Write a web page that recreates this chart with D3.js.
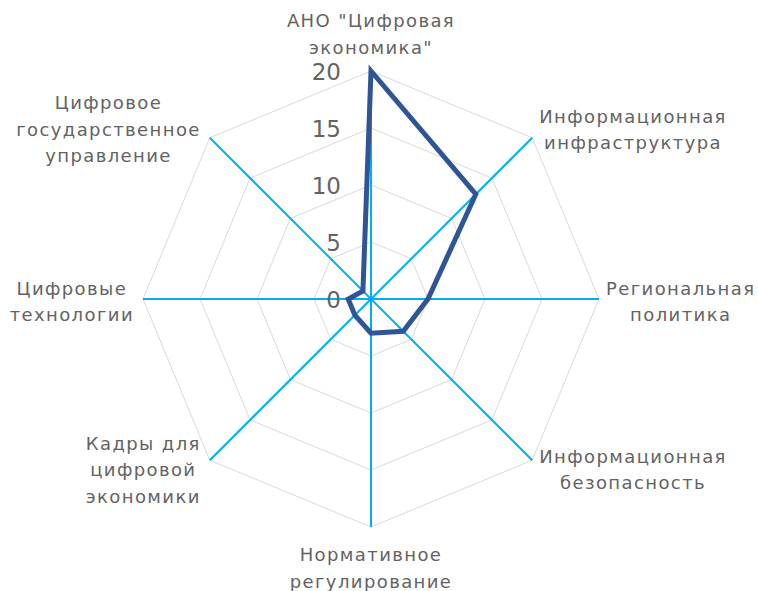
<!DOCTYPE html>
<html>
<head>
<meta charset="utf-8">
<script src="https://cdn.jsdelivr.net/npm/d3@7"></script>
<style>
  body { margin: 0; background: #fff; }
  text { font-family: "DejaVu Sans", sans-serif; fill: #636363; }
</style>
</head>
<body>
<div id="chart"></div>
<script>
var width = 758;
var height = 591;

// chart data
var categories = [
    'АНО "Цифровая\nэкономика"',
    'Информационная\nинфраструктура',
    'Региональная\nполитика',
    'Информационная\nбезопасность',
    'Нормативное\nрегулирование',
    'Кадры для\nцифровой\nэкономики',
    'Цифровые\nтехнологии',
    'Цифровое\nгосударственное\nуправление'
];
var values = [20, 13, 5, 4, 3, 2, 2, 1];
var ticks = [0, 5, 10, 15, 20];

// center of the radar
var cx = 371, cy = 299;

var svg = d3.select('#chart').append('svg')
    .attr('width', width)
    .attr('height', height);

var g = svg.append('g')
    .attr('transform', `translate(${cx}, ${cy})`);

var rScale = d3.scaleLinear()
    .domain([0, 20])
    .range([0, 228]);

var angle = d3.scalePoint()
    .domain(d3.range(categories.length + 1))
    .range([0, 2 * Math.PI]);

var R = rScale(20);

// grid octagons
var gridLine = d3.lineRadial()
    .angle((d, i) => angle(i))
    .radius(d => rScale(d))
    .curve(d3.curveLinearClosed);

g.selectAll('.grid')
    .data(ticks.slice(1))
    .enter()
    .append('path')
    .attr('class', 'grid')
    .attr('d', t => gridLine(categories.map(() => t)))
    .attr('fill', 'none')
    .attr('stroke', '#d9d9d9')
    .attr('stroke-width', 1);

// spokes
g.selectAll('.spoke')
    .data(categories)
    .enter()
    .append('line')
    .attr('class', 'spoke')
    .attr('x1', 0)
    .attr('y1', 0)
    .attr('x2', (d, i) => R * Math.sin(angle(i)))
    .attr('y2', (d, i) => -R * Math.cos(angle(i)))
    .attr('stroke', '#00b0f0')
    .attr('stroke-width', 2);

// tick labels
g.selectAll('.tick')
    .data(ticks)
    .enter()
    .append('text')
    .attr('class', 'tick')
    .attr('x', -30)
    .attr('y', t => -rScale(t) + 1)
    .attr('text-anchor', 'end')
    .attr('dominant-baseline', 'central')
    .style('font-size', '23px')
    .text(t => t);

// series
var seriesLine = d3.lineRadial()
    .angle((d, i) => angle(i))
    .radius(d => rScale(d))
    .curve(d3.curveLinearClosed);

g.append('path')
    .attr('d', seriesLine(values))
    .attr('fill', 'none')
    .attr('stroke', '#2f5597')
    .attr('stroke-width', 5)
    .attr('stroke-linejoin', 'miter');

// category labels
var lineH = 26.5;
categories.forEach(function (c, i) {
    var a = angle(i);
    var dx = Math.sin(a), dy = -Math.cos(a);
    if (Math.abs(dx) < 1e-9) dx = 0;
    if (Math.abs(dy) < 1e-9) dy = 0;
    var px = R * dx, py = R * dy;
    var lines = c.split('\n');
    var lab = g.append('text')
        .attr('text-anchor', 'middle')
        .attr('dominant-baseline', 'central')
        .style('font-size', '18px')
        .style('letter-spacing', '1.4px');
    var spans = lines.map(l => lab.append('tspan').text(l));
    var W = d3.max(spans, s => s.node().getComputedTextLength());
    var H = lines.length * lineH;

    var left;
    if (dx > 0.3) left = px + 7;
    else if (dx < -0.3) left = px - 9 - W;
    else left = px - W / 2;

    var mid;
    if (dy < -0.9) mid = py - 11 - H / 2;
    else if (dy > 0.9) mid = py + 14 + H / 2;
    else if (dy === 0) mid = py + 2;
    else mid = py + Math.sign(dy) * 9;

    spans.forEach(function (s, k) {
        s.attr('x', left + W / 2)
            .attr('y', mid - H / 2 + lineH * (k + 0.5));
    });
});
</script>
</body>
</html>
